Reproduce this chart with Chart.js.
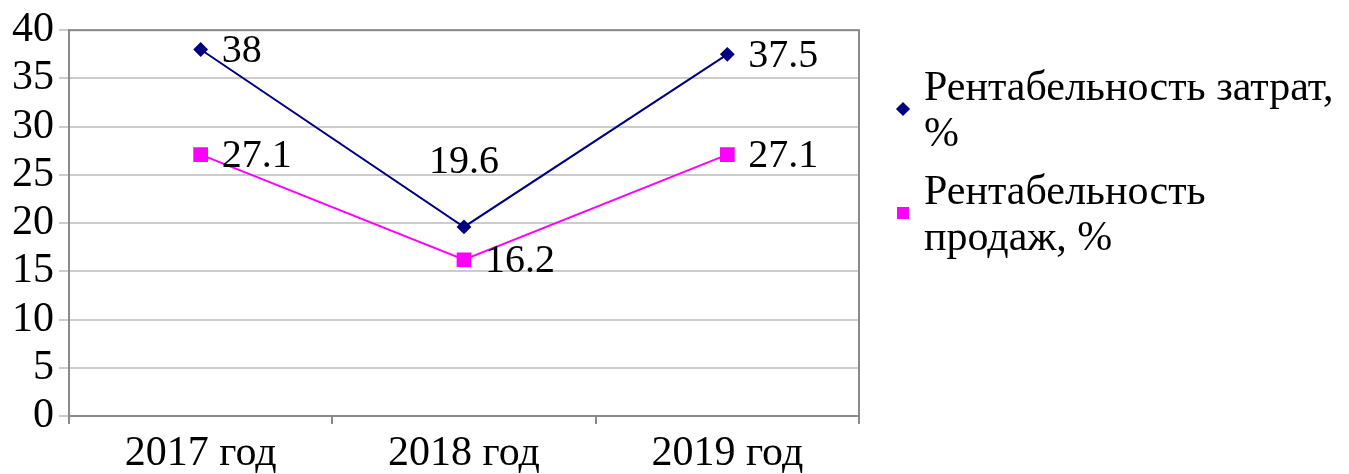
<!DOCTYPE html>
<html>
<head>
<meta charset="utf-8">
<script src="https://cdn.jsdelivr.net/npm/chart.js@4"></script>
<style>
    html, body { margin: 0; padding: 0; background: #fff; }
    #wrap { position: relative; width: 1349px; height: 474px; }
    #legend {
        position: absolute; left: 897px; top: 63px;
        font-family: "Liberation Serif", "Times New Roman", serif;
        font-size: 42px; line-height: 46px; color: #000;
    }
    .item { display: flex; align-items: center; margin-bottom: 12px; }
    .item .text { width: 430px; }
    .marker { width: 12px; height: 12px; margin-right: 15px; flex: none; }
    .marker.diamond { width: 10px; height: 10px; margin-left: 1px; margin-right: 16px; transform: rotate(45deg); }
</style>
</head>
<body>
<div id="wrap">
    <canvas id="chart" width="1349" height="474"></canvas>
    <div id="legend"></div>
</div>
<script>
const years = ['2017 год', '2018 год', '2019 год'];
const costReturn = [38, 19.6, 37.5];
const salesReturn = [27.1, 16.2, 27.1];
const seriesNames = ['Рентабельность затрат, %', 'Рентабельность продаж,\u00a0%'];

const serif = '"Liberation Serif", "Times New Roman", serif';

// value labels beside each point; the low point of the first series sits above it
const valueLabels = {
    id: 'valueLabels',
    afterDatasetsDraw(chart) {
        const ctx = chart.ctx;
        ctx.save();
        ctx.font = '40px ' + serif;
        ctx.fillStyle = '#000';
        ctx.textBaseline = 'middle';
        chart.data.datasets.forEach((ds, di) => {
            chart.getDatasetMeta(di).data.forEach((pt, i) => {
                const v = ds.data[i];
                if (di === 0 && i === 1) {
                    ctx.textAlign = 'center';
                    ctx.fillText(String(v), pt.x, pt.y - 64);
                } else {
                    ctx.textAlign = 'left';
                    ctx.fillText(String(v), pt.x + 21, pt.y + 2);
                }
            });
        });
        ctx.restore();
    },
};

// grey frame round the plot area
const plotFrame = {
    id: 'plotFrame',
    beforeDatasetsDraw(chart) {
        const a = chart.chartArea;
        const ctx = chart.ctx;
        ctx.save();
        ctx.strokeStyle = '#8a8a8a';
        ctx.lineWidth = 2;
        ctx.strokeRect(a.left, a.top, a.right - a.left, a.bottom - a.top);
        ctx.restore();
    },
};

const chart = new Chart(document.getElementById('chart'), {
    type: 'line',
    data: {
        labels: years,
        datasets: [
            {
                label: seriesNames[0],
                data: costReturn,
                borderColor: '#000080',
                backgroundColor: '#000080',
                borderWidth: 2,
                pointStyle: 'rectRot',
                pointRadius: 6,
                pointHoverRadius: 6,
                tension: 0,
            },
            {
                label: seriesNames[1],
                data: salesReturn,
                borderColor: '#ff00ff',
                backgroundColor: '#ff00ff',
                borderWidth: 2,
                pointStyle: 'rect',
                pointRadius: 9,
                pointHoverRadius: 9,
                tension: 0,
            },
        ],
    },
    options: {
        responsive: false,
        animation: false,
        layout: { padding: { left: 0, right: 490, top: 29, bottom: 0 } },
        plugins: {
            legend: { display: false },
            tooltip: { enabled: false },
        },
        scales: {
            x: {
                offset: true,
                afterFit: (scale) => { scale.height = 58; },
                grid: { offset: true, drawOnChartArea: false, tickLength: 8, color: '#8a8a8a', lineWidth: 2 },
                border: { color: '#8a8a8a', width: 2 },
                ticks: { color: '#000', font: { family: serif, size: 42, lineHeight: 1.05 }, padding: 8, maxRotation: 0 },
            },
            y: {
                min: 0,
                max: 40,
                afterFit: (scale) => { scale.width = 69; },
                grid: { color: '#cccccc', lineWidth: 2, tickLength: 10 },
                border: { color: '#8a8a8a', width: 2 },
                ticks: { stepSize: 5, autoSkip: false, color: '#000', font: { family: serif, size: 42 }, padding: 5 },
            },
        },
    },
    plugins: [plotFrame, valueLabels],
});

// legend on the right, built from the datasets
const legend = document.getElementById('legend');
chart.data.datasets.forEach((ds) => {
    const item = document.createElement('div');
    item.className = 'item';
    const mark = document.createElement('span');
    mark.className = 'marker' + (ds.pointStyle === 'rectRot' ? ' diamond' : '');
    mark.style.background = ds.backgroundColor;
    const text = document.createElement('span');
    text.className = 'text';
    text.textContent = ds.label;
    item.appendChild(mark);
    item.appendChild(text);
    legend.appendChild(item);
});
</script>
</body>
</html>
